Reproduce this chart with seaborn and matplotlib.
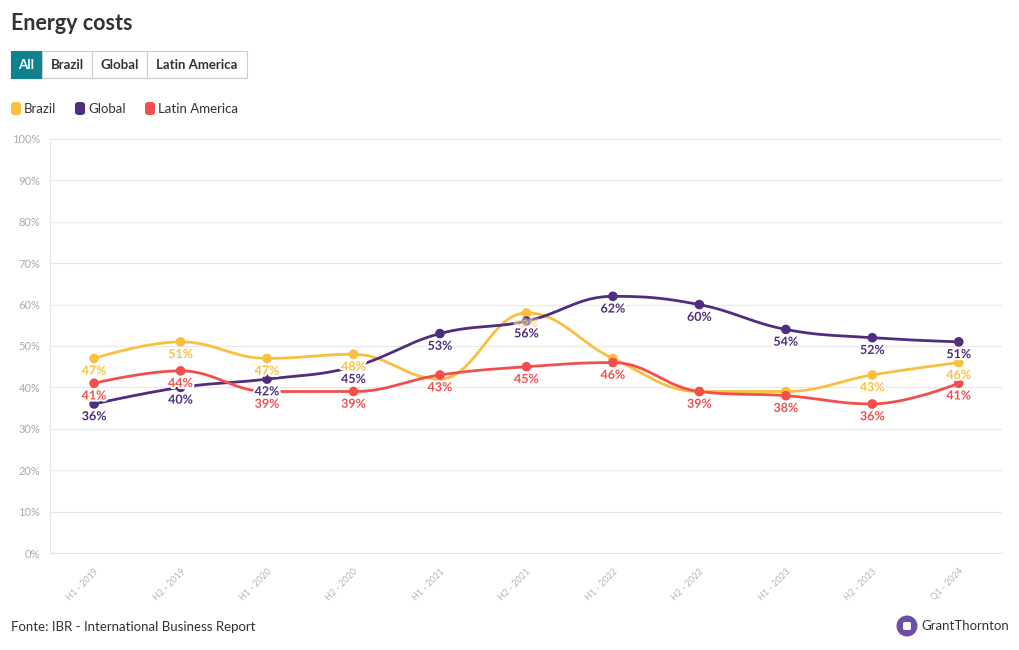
import numpy as np
import matplotlib
matplotlib.use("Agg")
import matplotlib.pyplot as plt
import matplotlib.patheffects as pe
from matplotlib.patches import FancyBboxPatch, Ellipse
import seaborn as sns
import pandas as pd

periodos = ["H1 - 2019", "H2 - 2019", "H1 - 2020", "H2 - 2020", "H1 - 2021", "H2 - 2021",
            "H1 - 2022", "H2 - 2022", "H1 - 2023", "H2 - 2023", "Q1 - 2024"]
brazil = [47, 51, 47, 48, 42, 58, 47, 39, 39, 43, 46]
global_ = [36, 40, 42, 45, 53, 56, 62, 60, 54, 52, 51]
latam = [41, 44, 39, 39, 43, 45, 46, 39, 38, 36, 41]
series_names = ["Brazil", "Global", "Latin America"]
colores = {"Brazil": "#fbbf3f", "Global": "#4f2d7f", "Latin America": "#f24e4c"}
# etiquetas ocultas por solapamiento (indice de punto)
ocultas = {"Brazil": [4, 6, 7, 8], "Global": [], "Latin America": []}
tenues = {"Brazil": [5], "Global": [], "Latin America": []}

df = pd.DataFrame({"periodo": periodos * 3,
                   "x": list(range(len(periodos))) * 3,
                   "valor": brazil + global_ + latam,
                   "serie": sum([[s] * len(periodos) for s in series_names], [])})


def spline(xs, ys, n=30, smooth=1.5):
    # curva tipo "spline" de Highcharts con beziers cubicos
    xs = np.asarray(xs, float)
    ys = np.asarray(ys, float)
    m = len(xs)
    lc = np.zeros((m, 2))
    rc = np.zeros((m, 2))
    for i in range(m):
        if i == 0 or i == m - 1:
            lc[i] = rc[i] = (xs[i], ys[i])
            continue
        d = smooth + 1
        lx = (smooth * xs[i] + xs[i - 1]) / d
        ly = (smooth * ys[i] + ys[i - 1]) / d
        rx = (smooth * xs[i] + xs[i + 1]) / d
        ry = (smooth * ys[i] + ys[i + 1]) / d
        if rx != lx:
            corr = ((ry - ly) * (rx - xs[i])) / (rx - lx) + ys[i] - ry
            ly += corr
            ry += corr
        if ly > max(ys[i - 1], ys[i]):
            ly = max(ys[i - 1], ys[i]); ry = 2 * ys[i] - ly
        elif ly < min(ys[i - 1], ys[i]):
            ly = min(ys[i - 1], ys[i]); ry = 2 * ys[i] - ly
        if ry > max(ys[i], ys[i + 1]):
            ry = max(ys[i], ys[i + 1]); ly = 2 * ys[i] - ry
        elif ry < min(ys[i], ys[i + 1]):
            ry = min(ys[i], ys[i + 1]); ly = 2 * ys[i] - ry
        lc[i] = (lx, ly)
        rc[i] = (rx, ry)
    px, py = [], []
    t = np.linspace(0, 1, n)
    for i in range(m - 1):
        p0 = np.array([xs[i], ys[i]]); p3 = np.array([xs[i + 1], ys[i + 1]])
        p1 = rc[i]; p2 = lc[i + 1]
        pts = ((1 - t) ** 3)[:, None] * p0 + (3 * (1 - t) ** 2 * t)[:, None] * p1 \
            + (3 * (1 - t) * t ** 2)[:, None] * p2 + (t ** 3)[:, None] * p3
        px.extend(pts[:, 0]); py.extend(pts[:, 1])
    return np.array(px), np.array(py)


sns.set_style("white")
plt.rcParams["font.family"] = ["Lato", "DejaVu Sans"]

fig = plt.figure(figsize=(10.2, 6.5), dpi=100)
ax = fig.add_axes([50 / 1020, 97 / 650, 952 / 1020, 414 / 650])

for k, s in enumerate(series_names):
    sub = df[df.serie == s]
    cx, cy = spline(sub.x.values, sub.valor.values)
    ax.plot(cx, cy, color=colores[s], lw=2.0, zorder=3 + k, solid_capstyle="round")
sns.scatterplot(data=df, x="x", y="valor", hue="serie", palette=colores, s=48,
                edgecolor="none", legend=False, ax=ax, zorder=6)

halo = [pe.withStroke(linewidth=3, foreground="white")]
for s in series_names:
    sub = df[df.serie == s].reset_index(drop=True)
    for i, row in sub.iterrows():
        if i in ocultas[s]:
            continue
        ax.annotate(f"{row.valor}%", (row.x, row.valor), xytext=(0, -4.5),
                    textcoords="offset points", ha="center", va="top",
                    fontsize=9, fontweight="bold", color=colores[s],
                    alpha=0.4 if i in tenues[s] else 1,
                    path_effects=halo, zorder=7 if i in tenues[s] else 8)

ax.set_xlim(-0.51, 10.5)
ax.set_ylim(0, 100)
ax.set_yticks(range(0, 101, 10))
ax.set_yticklabels([f"{v}%" for v in range(0, 101, 10)], color="#aaaaaa", fontsize=8)
ax.set_xticks(range(len(periodos)))
ax.set_xticklabels(periodos, rotation=45, ha="right", rotation_mode="anchor",
                   color="#b5b5b5", fontsize=6.5)
ax.tick_params(axis="x", length=4, color="#e6e6e6", pad=6)
ax.tick_params(axis="y", length=6, color="#e6e6e6", pad=1)
ax.grid(axis="y", color="#e9e9e9", lw=0.8)
ax.set_axisbelow(True)
for sp in ["top", "right"]:
    ax.spines[sp].set_visible(False)
ax.spines["left"].set_color("#e6e6e6")
ax.spines["bottom"].set_color("#e6e6e6")
ax.set_xlabel("")
ax.set_ylabel("")

# titulo
fig.text(11 / 1020, 1 - 24 / 650, "Energy costs", fontsize=15.5, fontweight="bold",
         color="#333333", va="center")

# botones
botones = ["All", "Brazil", "Global", "Latin America"]
anchos = [31, 50, 55, 100]
x0 = 11
for b, w in zip(botones, anchos):
    activo = b == "All"
    fig.patches.append(FancyBboxPatch((x0 / 1020, 1 - 78 / 650), w / 1020, 27 / 650,
                                      boxstyle="square,pad=0", transform=fig.transFigure,
                                      facecolor="#0e838f" if activo else "white",
                                      edgecolor="#0e838f" if activo else "#cccccc", lw=0.8))
    fig.text((x0 + w / 2) / 1020, 1 - 65 / 650, b, ha="center", va="center",
             fontsize=9.5, fontweight="bold", color="white" if activo else "#333333")
    x0 += w

# leyenda
lx = 11
for s, w in zip(series_names, [54, 60, 0]):
    fig.patches.append(FancyBboxPatch((lx / 1020, 1 - 115 / 650), 10 / 1020, 13 / 650,
                                      boxstyle="round,pad=0,rounding_size=0.004",
                                      transform=fig.transFigure, facecolor=colores[s],
                                      edgecolor="none"))
    fig.text((lx + 13) / 1020, 1 - 109 / 650, s, ha="left", va="center",
             fontsize=9.5, color="#333333")
    lx += w + 10

# fuente
fig.text(11 / 1020, 1 - 627 / 650, "Fonte: IBR - International Business Report",
         fontsize=9.5, color="#333333", va="center")

# logo
fig.patches.append(Ellipse((907 / 1020, 1 - 626 / 650), 21 / 1020, 21 / 650,
                           transform=fig.transFigure, facecolor="#6e4fa6", edgecolor="none"))
fig.patches.append(FancyBboxPatch((903 / 1020, 1 - 630 / 650), 8 / 1020, 8 / 650,
                                  boxstyle="round,pad=0,rounding_size=0.002",
                                  transform=fig.transFigure, facecolor="white",
                                  edgecolor="none"))
fig.text(921 / 1020, 1 - 626 / 650, "GrantThornton", fontsize=9.5, color="#333333",
         va="center")

fig.savefig("out.png", dpi=100)
plt.close(fig)
